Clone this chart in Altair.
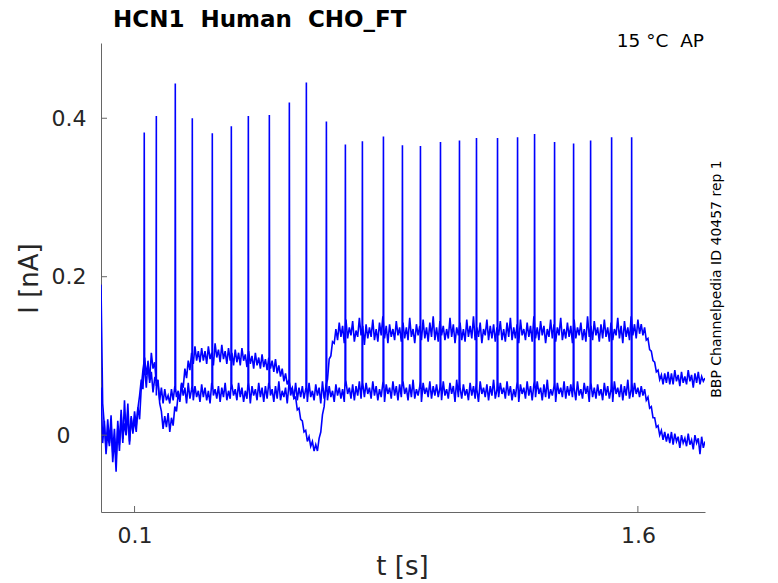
import altair as alt
import pandas as pd

# sampling grid of the two sweeps (s)
t_grid = [round(i * 0.005, 3) for i in range(361)]  # 0.000 .. 1.800

# sweep A (upper trace at the end), nA, one row per 0.1 s
trace_a = [
    0.190, 0.040, 0.012, -0.015, 0.020, -0.010, 0.025, -0.022, 0.008, -0.030, 0.018, -0.012, 0.032, -0.005, 0.015, 0.000, 0.040, -0.008, 0.022, 0.005,
    0.030, 0.012, 0.035, 0.020, 0.060, 0.082, 0.098, 0.076, 0.090, 0.070, 0.104, 0.084, 0.092, 0.062, 0.070, 0.040, 0.030, 0.008, 0.024, 0.010,
    0.028, 0.004, 0.022, 0.012, 0.036, 0.030, 0.052, 0.044, 0.066, 0.060, 0.084, 0.072, 0.094, 0.082, 0.104, 0.090, 0.112, 0.094, 0.106, 0.092,
    0.110, 0.094, 0.106, 0.090, 0.112, 0.096, 0.104, 0.088, 0.116, 0.098, 0.108, 0.092, 0.114, 0.096, 0.106, 0.090, 0.110, 0.094, 0.104, 0.088,
    0.108, 0.092, 0.104, 0.088, 0.110, 0.094, 0.102, 0.086, 0.106, 0.090, 0.100, 0.084, 0.104, 0.088, 0.098, 0.084, 0.102, 0.086, 0.096, 0.082,
    0.098, 0.084, 0.094, 0.080, 0.096, 0.078, 0.088, 0.074, 0.084, 0.068, 0.078, 0.064, 0.070, 0.056, 0.060, 0.046, 0.048, 0.032, 0.034, 0.020,
    0.018, 0.004, 0.006, -0.008, -0.002, -0.014, -0.008, -0.020, -0.012, -0.020, -0.004, 0.004, 0.026, 0.036, 0.062, 0.070, 0.096, 0.100, 0.118, 0.116,
    0.134, 0.120, 0.142, 0.124, 0.138, 0.116, 0.146, 0.122, 0.136, 0.126, 0.144, 0.118, 0.132, 0.124, 0.148, 0.126, 0.138, 0.114, 0.140, 0.122,
    0.136, 0.124, 0.146, 0.120, 0.134, 0.118, 0.142, 0.126, 0.150, 0.122, 0.138, 0.116, 0.140, 0.124, 0.134, 0.120, 0.144, 0.126, 0.136, 0.118,
    0.142, 0.122, 0.136, 0.120, 0.148, 0.124, 0.134, 0.116, 0.140, 0.126, 0.138, 0.120, 0.146, 0.122, 0.136, 0.118, 0.142, 0.124, 0.150, 0.120,
    0.136, 0.118, 0.144, 0.126, 0.138, 0.120, 0.134, 0.122, 0.148, 0.124, 0.140, 0.116, 0.136, 0.126, 0.142, 0.120, 0.134, 0.118, 0.146, 0.124,
    0.138, 0.122, 0.150, 0.120, 0.136, 0.124, 0.142, 0.116, 0.134, 0.126, 0.146, 0.120, 0.138, 0.122, 0.140, 0.118, 0.136, 0.126, 0.144, 0.120,
    0.134, 0.118, 0.142, 0.124, 0.148, 0.120, 0.136, 0.122, 0.140, 0.116, 0.146, 0.126, 0.134, 0.120, 0.142, 0.124, 0.138, 0.118, 0.150, 0.122,
    0.136, 0.120, 0.144, 0.126, 0.138, 0.116, 0.134, 0.124, 0.146, 0.122, 0.140, 0.118, 0.136, 0.126, 0.148, 0.120, 0.134, 0.122, 0.142, 0.124,
    0.138, 0.116, 0.146, 0.122, 0.136, 0.126, 0.142, 0.120, 0.134, 0.118, 0.150, 0.124, 0.138, 0.120, 0.144, 0.126, 0.136, 0.118, 0.140, 0.122,
    0.146, 0.124, 0.136, 0.118, 0.142, 0.120, 0.134, 0.126, 0.148, 0.122, 0.138, 0.116, 0.144, 0.124, 0.136, 0.120, 0.150, 0.126, 0.140, 0.122,
    0.146, 0.128, 0.140, 0.126, 0.136, 0.120, 0.122, 0.108, 0.106, 0.094, 0.092, 0.080, 0.082, 0.070, 0.076, 0.064, 0.078, 0.066, 0.080, 0.064,
    0.078, 0.064, 0.082, 0.068, 0.076, 0.062, 0.080, 0.066, 0.074, 0.064, 0.082, 0.068, 0.076, 0.060, 0.078, 0.066, 0.080, 0.064, 0.074, 0.068,
    0.072,
]

# sweep B (lower trace at the end), nA, one row per 0.1 s
trace_b = [
    0.060, -0.010, 0.018, -0.024, 0.004, -0.014, 0.012, -0.034, -0.004, -0.046, 0.010, -0.020, 0.026, -0.010, 0.044, 0.000, 0.030, -0.012, 0.024, 0.002,
    0.020, 0.004, 0.034, 0.050, 0.070, 0.058, 0.084, 0.060, 0.094, 0.066, 0.080, 0.054, 0.072, 0.050, 0.064, 0.044, 0.060, 0.040, 0.058, 0.044,
    0.050, 0.040, 0.058, 0.044, 0.062, 0.048, 0.056, 0.042, 0.064, 0.050, 0.060, 0.040, 0.066, 0.046, 0.058, 0.044, 0.062, 0.048, 0.056, 0.042,
    0.064, 0.048, 0.060, 0.044, 0.056, 0.040, 0.066, 0.050, 0.058, 0.046, 0.062, 0.042, 0.060, 0.048, 0.066, 0.044, 0.056, 0.046, 0.064, 0.050,
    0.058, 0.044, 0.066, 0.048, 0.060, 0.042, 0.056, 0.046, 0.064, 0.040, 0.062, 0.050, 0.058, 0.044, 0.066, 0.048, 0.060, 0.042, 0.062, 0.046,
    0.066, 0.050, 0.058, 0.042, 0.062, 0.046, 0.068, 0.044, 0.056, 0.048, 0.060, 0.040, 0.064, 0.050, 0.058, 0.046, 0.066, 0.044, 0.060, 0.048,
    0.062, 0.046, 0.058, 0.042, 0.066, 0.048, 0.056, 0.044, 0.064, 0.050, 0.060, 0.040, 0.068, 0.046, 0.058, 0.044, 0.062, 0.048, 0.056, 0.042,
    0.064, 0.050, 0.060, 0.046, 0.058, 0.042, 0.068, 0.052, 0.060, 0.046, 0.064, 0.044, 0.062, 0.050, 0.068, 0.046, 0.058, 0.048, 0.066, 0.052,
    0.060, 0.046, 0.068, 0.050, 0.062, 0.044, 0.058, 0.048, 0.066, 0.042, 0.064, 0.052, 0.060, 0.046, 0.068, 0.050, 0.062, 0.044, 0.064, 0.048,
    0.068, 0.052, 0.060, 0.044, 0.064, 0.048, 0.070, 0.046, 0.058, 0.050, 0.062, 0.042, 0.066, 0.052, 0.060, 0.048, 0.068, 0.046, 0.062, 0.050,
    0.064, 0.048, 0.060, 0.044, 0.068, 0.050, 0.058, 0.046, 0.066, 0.052, 0.062, 0.042, 0.070, 0.048, 0.060, 0.046, 0.064, 0.050, 0.058, 0.044,
    0.066, 0.050, 0.062, 0.046, 0.058, 0.042, 0.068, 0.052, 0.060, 0.048, 0.064, 0.044, 0.062, 0.050, 0.070, 0.046, 0.058, 0.048, 0.066, 0.052,
    0.060, 0.046, 0.068, 0.050, 0.062, 0.044, 0.058, 0.048, 0.066, 0.042, 0.064, 0.052, 0.060, 0.046, 0.068, 0.050, 0.062, 0.044, 0.064, 0.048,
    0.068, 0.052, 0.060, 0.044, 0.064, 0.048, 0.070, 0.046, 0.058, 0.050, 0.062, 0.042, 0.066, 0.052, 0.060, 0.048, 0.068, 0.046, 0.062, 0.050,
    0.064, 0.048, 0.060, 0.044, 0.068, 0.050, 0.058, 0.046, 0.066, 0.052, 0.062, 0.042, 0.070, 0.048, 0.060, 0.046, 0.064, 0.050, 0.058, 0.044,
    0.066, 0.050, 0.062, 0.046, 0.058, 0.042, 0.068, 0.052, 0.060, 0.048, 0.064, 0.044, 0.062, 0.050, 0.070, 0.046, 0.058, 0.048, 0.066, 0.052,
    0.060, 0.048, 0.062, 0.050, 0.058, 0.044, 0.048, 0.034, 0.036, 0.022, 0.022, 0.010, 0.012, 0.000, 0.006, -0.006, 0.004, -0.008, 0.002, -0.010,
    0.004, -0.012, 0.002, -0.008, -0.002, -0.016, 0.000, -0.010, -0.004, -0.014, 0.002, -0.012, -0.006, -0.018, 0.000, -0.010, -0.004, -0.024, -0.002, -0.016,
    -0.008,
]

# action-potential evoked current spikes
spike_t = [0.1289, 0.1649, 0.2214, 0.2721, 0.3317, 0.3884, 0.4391, 0.5017, 0.5613,
           0.6120, 0.6717, 0.7283, 0.7790, 0.8417, 0.8983, 0.9520, 1.0117, 1.0683,
           1.1190, 1.1817, 1.2414, 1.2921, 1.3517, 1.4084, 1.4591, 1.5217, 1.5814]
spike_peak = [0.382, 0.403, 0.444, 0.400, 0.381, 0.390, 0.403, 0.404, 0.420,
              0.445, 0.396, 0.367, 0.371, 0.377, 0.366, 0.365, 0.370, 0.372,
              0.375, 0.375, 0.376, 0.380, 0.370, 0.368, 0.372, 0.376, 0.376]
spike_base = [0.090, 0.070, 0.058, 0.062, 0.064, 0.062, 0.066, 0.064, 0.066,
              0.060, 0.066, 0.068, 0.066, 0.068, 0.066, 0.068, 0.066, 0.068,
              0.066, 0.068, 0.066, 0.068, 0.066, 0.068, 0.066, 0.068, 0.066]

x_ticks = [0.1, 1.6]
y_ticks = [0.0, 0.2, 0.4]

rows = []
for ts, va in zip(t_grid, trace_a):
    rows.append({"t": ts, "I": va, "trace": "A"})
for ts, vb in zip(t_grid, trace_b):
    rows.append({"t": ts, "I": vb, "trace": "B"})
for ts, pk, bs in zip(spike_t, spike_peak, spike_base):
    rows.append({"t": ts - 0.0010, "I": bs, "trace": "B"})
    rows.append({"t": ts, "I": pk, "trace": "B"})
    rows.append({"t": ts + 0.0010, "I": bs, "trace": "B"})
df = pd.DataFrame(rows).sort_values(["trace", "t"]).reset_index(drop=True)

W, H = 604, 469
FONT = "DejaVu Sans"
AX = "#666666"
TXT = "#262626"
BLUE = "#0000ff"

xscale = alt.Scale(domain=[0, 1.8], nice=False, zero=False)
yscale = alt.Scale(domain=[-0.097, 0.495], nice=False, zero=False)

lines = alt.Chart(df).mark_line(color=BLUE, strokeWidth=1.6, clip=True).encode(
    x=alt.X("t:Q", scale=xscale,
            axis=alt.Axis(values=x_ticks, format=".1f", ticks=False, tickSize=0,
                          labelFontSize=22, labelColor=TXT, labelFont=FONT,
                          labelPadding=30, labelBaseline="alphabetic",
                          domainColor=AX, grid=False,
                          title="t [s]", titleFontSize=26, titleFontWeight="normal",
                          titleColor=TXT, titleFont=FONT, titleX=301, titleY=62,
                          titleBaseline="alphabetic", titleAlign="center")),
    y=alt.Y("I:Q", scale=yscale,
            axis=alt.Axis(values=y_ticks, ticks=False, tickSize=0,
                          labelExpr="datum.value == 0 ? '0' : format(datum.value, '.1f')",
                          labelFontSize=22, labelColor=TXT, labelFont=FONT,
                          labelPadding={"condition": {"test": "datum.value == 0", "value": 31},
                                        "value": 15},
                          domainColor=AX, grid=False,
                          title="I [nA]", titleFontSize=26, titleFontWeight="normal",
                          titleColor=TXT, titleFont=FONT, titleX=-64, titleY=235,
                          titleAngle=270, titleBaseline="alphabetic", titleAlign="center")),
    detail="trace:N",
)

xt = alt.Chart(pd.DataFrame({"v": x_ticks})).mark_rule(color=AX, strokeWidth=1).encode(
    x=alt.X("v:Q", scale=xscale), y=alt.value(H), y2=alt.value(H - 6))
yt = alt.Chart(pd.DataFrame({"v": y_ticks})).mark_rule(color=AX, strokeWidth=1).encode(
    y=alt.Y("v:Q", scale=yscale), x=alt.value(0), x2=alt.value(6))

title = alt.Chart(pd.DataFrame({"s": ["HCN1\u00a0\u00a0Human\u00a0\u00a0CHO_FT"]})).mark_text(
    font=FONT, fontSize=23, fontWeight="bold", color="#000000", align="left",
    baseline="alphabetic").encode(x=alt.value(12), y=alt.value(-16), text="s:N")
cond = alt.Chart(pd.DataFrame({"s": ["15 °C\u00a0\u00a0AP"]})).mark_text(
    font=FONT, fontSize=18.5, color="#000000", align="right",
    baseline="alphabetic").encode(x=alt.value(603), y=alt.value(4), text="s:N")
side = alt.Chart(pd.DataFrame({"s": ["BBP Channelpedia ID 40457 rep 1"]})).mark_text(
    font=FONT, fontSize=14, color="#000000", align="center", angle=270,
    baseline="middle").encode(x=alt.value(616), y=alt.value(236), text="s:N")

chart = alt.layer(lines, xt, yt, title, cond, side).properties(
    width=W, height=H,
    autosize=alt.AutoSizeParams(type="none"),
    padding={"left": 93, "top": 35, "right": 65, "bottom": 72},
).configure_view(stroke=None)

chart.save("out.html", embed_options={"renderer": "svg", "actions": False})
